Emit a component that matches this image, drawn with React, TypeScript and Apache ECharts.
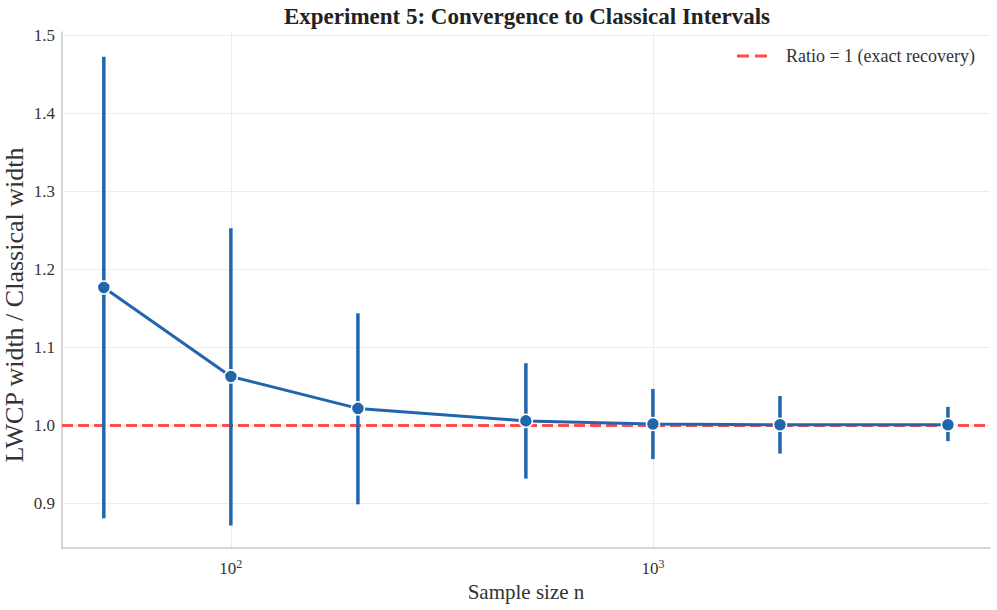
import React, { useEffect, useRef } from "react";
import * as echarts from "echarts";

const sampleSizes = [50, 100, 200, 500, 1000, 2000, 5000];
const ratioMean = [1.177, 1.063, 1.022, 1.006, 1.002, 1.001, 1.001];
const ratioLow = [0.881, 0.872, 0.899, 0.932, 0.957, 0.964, 0.98];
const ratioHigh = [1.473, 1.253, 1.144, 1.08, 1.047, 1.038, 1.024];
const refValue = 1.0;
const xRange = [39.8, 6290];
const yRange = [0.843, 1.5047];

const BLUE = "#2166ac";
const RED = "#ff4d4d";
const FONT = "Liberation Serif";
const TEXT = "#333333";

export default function App() {
  const ref = useRef<HTMLDivElement>(null);
  useEffect(() => {
    if (!ref.current) return;
    const chart = echarts.init(ref.current, undefined, { renderer: "svg" });
    const mainData = sampleSizes.map((n, i) => [n, ratioMean[i]]);
    const barData = sampleSizes.map((n, i) => [n, ratioLow[i], ratioHigh[i]]);
    chart.setOption({
      animation: false,
      backgroundColor: "#ffffff",
      textStyle: { fontFamily: FONT },
      title: {
        text: "Experiment 5: Convergence to Classical Intervals",
        left: 522,
        textAlign: "center",
        top: 0,
        textStyle: { fontFamily: FONT, fontSize: 23, fontWeight: "bold", color: "#222222" },
      },
      grid: { left: 62, right: 7, top: 32, bottom: 62, containLabel: false, outerBoundsMode: "none" },
      legend: {
        data: [
          {
            name: "Ratio = 1 (exact recovery)",
            icon: "path://M0,0h12v3h-12z M18,0h12v3h-12z",
          },
        ],
        right: 17,
        top: 42,
        itemWidth: 30,
        itemHeight: 3,
        selectedMode: false,
        textStyle: { fontFamily: FONT, fontSize: 18, color: TEXT, padding: [0, 0, 0, 14] },
      },
      xAxis: {
        type: "log",
        logBase: 10,
        min: xRange[0],
        max: xRange[1],
        name: "Sample size n",
        nameLocation: "middle",
        nameGap: 33,
        nameTextStyle: { fontFamily: FONT, fontSize: 21, color: TEXT },
        axisLine: { show: true, lineStyle: { color: "#c8c8c8", width: 1.5 } },
        axisTick: { show: false },
        minorTick: { show: false },
        splitLine: { show: true, showMinLine: false, showMaxLine: false, lineStyle: { color: "#ececec", width: 1 } },
        axisLabel: {
          margin: 10,
          showMinLabel: false,
          showMaxLabel: false,
          formatter: (v: number) => {
            const e = Math.log10(v);
            if (Math.abs(e - Math.round(e)) > 1e-6) return "";
            return "{base|10}{sup|" + Math.round(e) + "}";
          },
          rich: {
            base: { fontFamily: FONT, fontSize: 17, color: TEXT, lineHeight: 20 },
            sup: { fontFamily: FONT, fontSize: 12, color: TEXT, lineHeight: 12, verticalAlign: "top" },
          },
        },
      },
      yAxis: {
        type: "value",
        min: yRange[0],
        max: yRange[1],
        splitNumber: 7,
        name: "LWCP width / Classical width",
        nameLocation: "middle",
        nameGap: 35,
        nameMoveOverlap: false,
        nameTextStyle: { fontFamily: FONT, fontSize: 26, lineHeight: 26, color: TEXT, padding: [0, 30, 0, 0] },
        axisLine: { show: true, lineStyle: { color: "#c8c8c8", width: 1.5 } },
        axisTick: { show: false },
        splitLine: { show: true, showMinLine: false, showMaxLine: false, lineStyle: { color: "#ececec", width: 1 } },
        axisLabel: {
          margin: 7,
          showMinLabel: false,
          showMaxLabel: false,
          fontFamily: FONT,
          fontSize: 17,
          color: TEXT,
          formatter: (v: number) => {
            const r = Math.round(v * 10) / 10;
            if (Math.abs(v - r) > 1e-6) return "";
            return r.toFixed(1);
          },
        },
      },
      series: [
        {
          name: "Ratio = 1 (exact recovery)",
          type: "line",
          data: [[xRange[0], refValue], [xRange[1], refValue]],
          symbol: "none",
          z: 1,
          silent: true,
          color: RED,
          lineStyle: { color: RED, width: 3, type: [11, 5] },
        },
        {
          name: "errorbars",
          type: "custom",
          z: 2,
          silent: true,
          encode: { x: 0, y: [1, 2] },
          data: barData,
          renderItem: (params: any, api: any) => {
            const x = api.value(0);
            const p1 = api.coord([x, api.value(1)]);
            const p2 = api.coord([x, api.value(2)]);
            return {
              type: "line",
              shape: { x1: p1[0], y1: p1[1], x2: p2[0], y2: p2[1] },
              style: { stroke: BLUE, lineWidth: 3.5 },
            };
          },
        },
        {
          name: "mean",
          type: "line",
          z: 3,
          data: mainData,
          symbol: "circle",
          symbolSize: 13,
          color: BLUE,
          lineStyle: { color: BLUE, width: 3 },
          itemStyle: { color: BLUE, borderColor: "#ffffff", borderWidth: 1.5 },
        },
      ],
    });
    return () => chart.dispose();
  }, []);
  return (
    <div
      ref={ref}
      style={{ position: "fixed", left: 0, top: 0, width: 997, height: 610 }}
    />
  );
}
